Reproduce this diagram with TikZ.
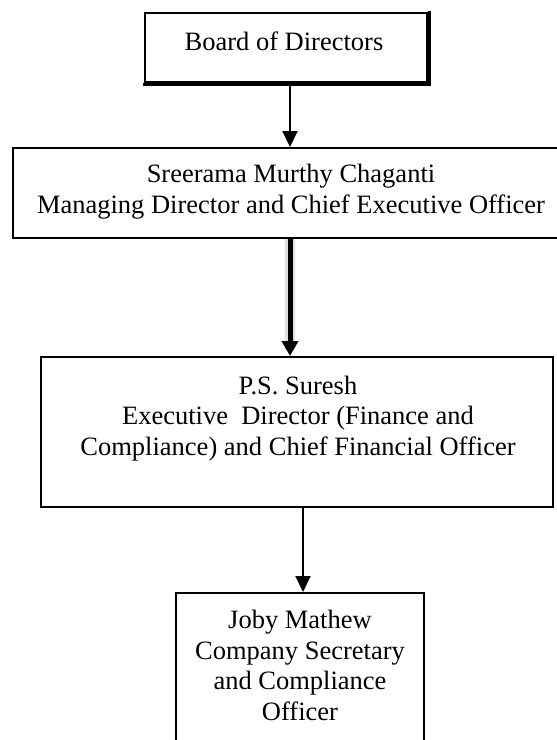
\documentclass[tikz,border=0pt]{standalone}
\usepackage{fontspec}
\setmainfont{Liberation Serif}
\usetikzlibrary{arrows.meta}
\begin{document}
\begin{tikzpicture}[x=1pt,y=-1pt,
  box/.style={draw,line width=2pt,inner sep=0pt,fill=white},
  txt/.style={font=\fontsize{26.5}{30.5}\selectfont,align=center,anchor=base,inner sep=0pt},
  link/.style={line width=2pt,-{Triangle[length=16pt,width=15pt]}},
  thicklink/.style={line width=5pt,-{Triangle[length=15pt,width=16pt]}}]
\useasboundingbox (0,0) rectangle (557,740);
\clip (0,0) rectangle (557,740);
\fill[white] (0,0) rectangle (557,740);
% boxes
\node[box,minimum width=282pt,minimum height=69pt] (b1) at (286,47.5) {};
\draw[line width=2.5pt,line cap=rect] ([xshift=1.5pt]b1.north east) -- ([xshift=1.5pt,yshift=-1.5pt]b1.south east) -- ([yshift=-1.5pt]b1.south west);
\node[box,minimum width=557pt,minimum height=90pt] (b2) at (291.5,193) {};
\node[box,minimum width=512pt,minimum height=150pt] (b3) at (297,432) {};
\node[box,minimum width=248pt,minimum height=167pt] (b4) at (300,676.5) {};
% texts
\node[txt] (t1) at (284,50) {Board of Directors};
\node[txt] (t2) at (291,213) {Sreerama Murthy Chaganti\\Managing Director and Chief Executive Officer};
\node[txt] (t3) at (298,455) {P.S. Suresh\\Executive\ \ Director (Finance and\\Compliance) and Chief Financial Officer};
\node[txt] (t4) at (300,720) {Joby Mathew\\Company Secretary\\and Compliance\\Officer};
% connectors
\draw[link] ([xshift=4pt]b1.south) -- ([xshift=4pt]b1.south |- b2.north);
\draw[line width=10pt,black!12,shorten >=6pt] ([xshift=-1.5pt]b2.south) -- ([xshift=-1.5pt]b2.south |- b3.north);
\draw[thicklink] ([xshift=-1.5pt]b2.south) -- ([xshift=-1.5pt]b2.south |- b3.north);
\draw[link] ([xshift=6pt]b3.south) -- ([xshift=6pt]b3.south |- b4.north);
\end{tikzpicture}
\end{document}
